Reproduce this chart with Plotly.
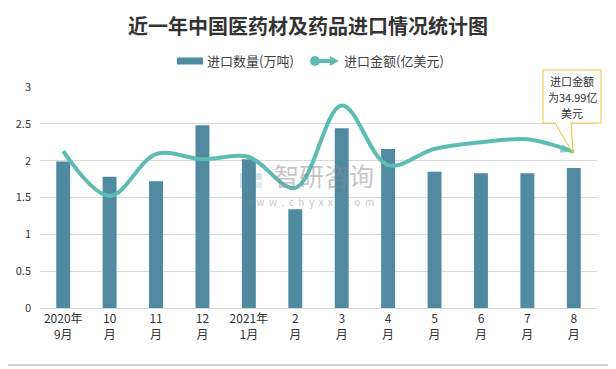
import plotly.graph_objects as go

categories = ["2020年<br>9月", "10<br>月", "11<br>月", "12<br>月", "2021年<br>1月", "2<br>月",
              "3<br>月", "4<br>月", "5<br>月", "6<br>月", "7<br>月", "8<br>月"]
qty = [1.99, 1.78, 1.72, 2.48, 2.02, 1.34, 2.44, 2.16, 1.85, 1.83, 1.83, 1.90]
amount = [2.13, 1.52, 2.09, 2.02, 2.05, 1.63, 2.75, 1.94, 2.16, 2.25, 2.29, 2.12]
yticks = [0, 0.5, 1, 1.5, 2, 2.5, 3]
ytick_text = ["0", "0.5", "1", "1.5", "2", "2.5", "3"]
series_names = ["进口数量(万吨)", "进口金额(亿美元)"]
callout_lines = ["进口金额", "为34.99亿", "美元"]

# page body has an 8px margin, so the figure is drawn 8px smaller and offset
OFF = 8
W, H = 616 - OFF, 369 - OFF
L, R, T, B = 40, 597, 87, 308  # plot area in reference pixels


def px(x):
    return (x - L) / (R - L)


def py(y):
    return (B - y) / (B - T)


FONT = "Noto Sans CJK SC"
BAR_C = "#4F8AA1"
LINE_C = "#5CBCB2"
n = len(amount)
symbols = ["circle"] + ["circle"] * (n - 2) + ["arrow"]
sizes = [11] + [0] * (n - 2) + [14]

fig = go.Figure()
fig.add_trace(go.Bar(
    x=categories, y=qty, name=series_names[0],
    marker=dict(color=BAR_C, line=dict(width=0)),
    width=0.3,
))
fig.add_trace(go.Scatter(
    x=categories, y=amount, name=series_names[1],
    mode="lines+markers",
    line=dict(color=LINE_C, width=4, shape="spline", smoothing=1.0),
    marker=dict(symbol=symbols, size=sizes, color=LINE_C, angleref="previous",
                line=dict(width=0)),
))


def prect(x0, x1, y0, y1, **kw):
    return dict(type="rect", xref="paper", yref="paper", x0=px(x0), x1=px(x1),
                y0=py(y0), y1=py(y1), **kw)


shapes = [
    prect(6, 610, 3, 365, line=dict(color="#A6A6A6", width=1), fillcolor="rgba(0,0,0,0)",
          layer="below"),
    # watermark logo
    prect(240, 250, 173, 188, line=dict(width=0), fillcolor="rgba(120,160,205,0.30)", layer="below"),
    prect(252, 262, 173, 180, line=dict(width=0), fillcolor="rgba(120,160,205,0.30)", layer="below"),
    prect(252, 262, 182, 188, line=dict(width=0), fillcolor="rgba(150,190,225,0.30)", layer="below"),
    # legend: bar swatch
    prect(177, 203, 57.5, 64.5, line=dict(width=0), fillcolor=BAR_C, layer="above"),
    # legend: line with circle and arrow
    dict(type="line", xref="paper", yref="paper", x0=px(315), x1=px(333), y0=py(61), y1=py(61),
         line=dict(color=LINE_C, width=4), layer="above"),
    dict(type="circle", xref="paper", yref="paper", x0=px(310), x1=px(320), y0=py(56), y1=py(66),
         line=dict(width=0), fillcolor=LINE_C, layer="above"),
    dict(type="path", xref="paper", yref="paper",
         path=f"M {px(330)} {py(56)} L {px(339)} {py(61)} L {px(330)} {py(66)} Z",
         line=dict(width=0), fillcolor=LINE_C, layer="above"),
    # callout
    prect(543, 601, 70, 123, line=dict(color="#F2C037", width=1), fillcolor="white", layer="above"),
    dict(type="path", xref="paper", yref="paper",
         path=f"M {px(555)} {py(123)} L {px(573)} {py(153)} L {px(571)} {py(123)} Z",
         line=dict(color="#F2C037", width=1), fillcolor="white", layer="above"),
    dict(type="line", xref="paper", yref="paper", x0=px(555.6), x1=px(570.4), y0=py(123), y1=py(123),
         line=dict(color="white", width=2), layer="above"),
]


def ann(text, x, y, size, color, xanchor="center"):
    return dict(text=text, xref="paper", yref="paper", x=px(x), y=py(y), showarrow=False,
                xanchor=xanchor, yanchor="middle", align="center",
                font=dict(family=FONT, size=size, color=color))


annotations = [
    ann("<b>近一年中国医药材及药品进口情况统计图</b>", 308, 25, 20, "#333333"),
    ann(series_names[0], 205, 61, 13, "#404040", "left"),
    ann(series_names[1], 342, 61, 13, "#404040", "left"),
    ann(callout_lines[0], 572, 81, 11, "#333333"),
    ann(callout_lines[1], 572, 97, 11, "#333333"),
    ann(callout_lines[2], 572, 113, 11, "#333333"),
    ann("智研咨询", 324, 175, 25, "rgba(140,140,140,0.5)"),
    ann("w  w  w  .  c  h  y  x  x  .  c  o  m", 309, 201, 10, "rgba(140,140,140,0.5)"),
]

fig.update_layout(
    width=W, height=H,
    margin=dict(l=L - OFF, r=W - (R - OFF), t=T - OFF, b=H - (B - OFF), autoexpand=False),
    paper_bgcolor="white", plot_bgcolor="white",
    font=dict(family=FONT, size=12, color="#333333"),
    showlegend=False,
    shapes=shapes,
    annotations=annotations,
    xaxis=dict(type="category", range=[-0.5, 11.5], autorange=False, showgrid=False,
               showline=True, linecolor="#D9D9D9",
               ticks="", tickangle=0, tickfont=dict(size=12, color="#333333")),
    yaxis=dict(range=[0, 3], tickvals=yticks, ticktext=ytick_text, showgrid=True,
               gridcolor="#D9D9D9", gridwidth=1, zeroline=False, showline=False,
               tickfont=dict(size=11, color="#333333"), ticklabelstandoff=8),
)

fig.write_html("out.html")
